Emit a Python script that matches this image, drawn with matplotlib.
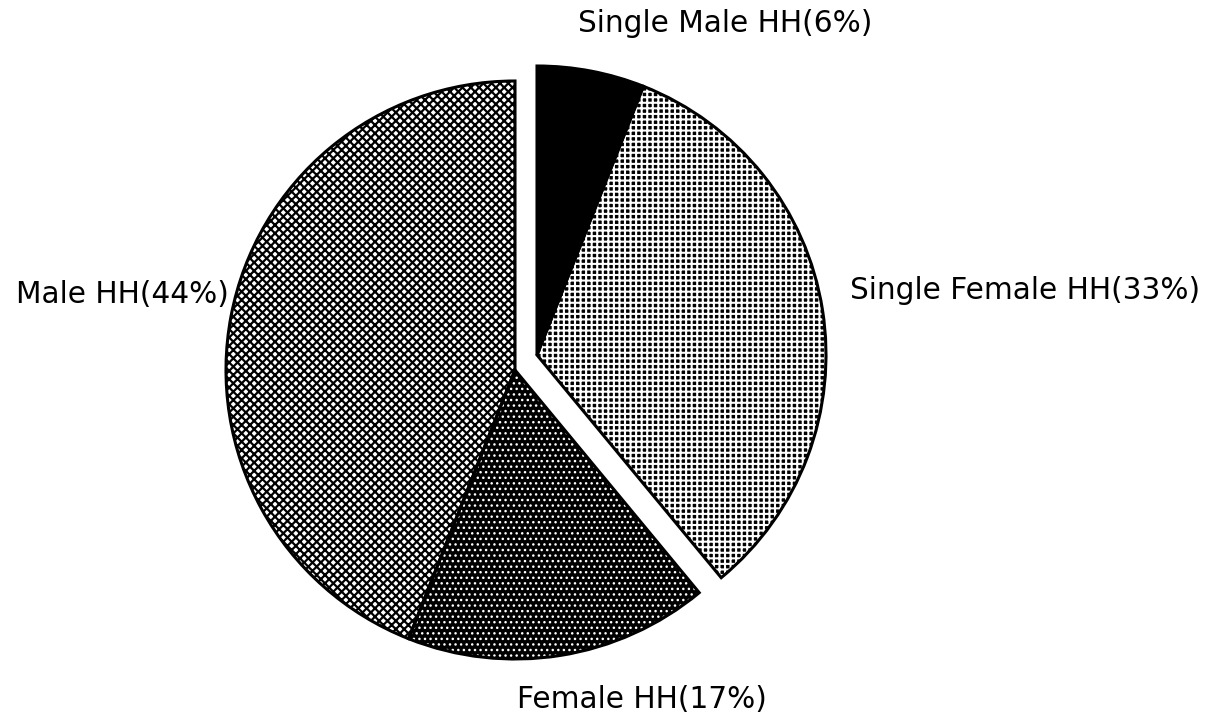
import matplotlib.pyplot as plt

# household head types, clockwise from the top
labels = ["Single Male HH(6%)", "Single Female HH(33%)", "Female HH(17%)", "Male HH(44%)"]
shares = [6, 33, 17, 44]

W, H = 1217, 717
R = 289
center = (515, H - 370)
moved = (537, H - 355)   # the two "single" slices are pulled out together

faces = ["black", "black", "black", "white"]
hatch_col = ["black", "white", "white", "black"]
hatches = [None, "+++", "...", "xxxx"]
hatch_lw = [1.0, 1.5, 1.0, 1.6]

fig = plt.figure(figsize=(W / 100, H / 100), dpi=100)
ax = fig.add_axes([0, 0, 1, 1])

fill, _ = ax.pie(shares, startangle=90, counterclock=False, radius=R,
                 center=center, colors=faces,
                 wedgeprops=dict(linewidth=0), frame=True)
for w, hc, h, lw in zip(fill, hatch_col, hatches, hatch_lw):
    w.set_edgecolor(hc)
    w.set_linewidth(0)
    if h:
        w.set_hatch(h)
    if hasattr(w, "set_hatch_linewidth"):
        w.set_hatch_linewidth(lw)

edge, _ = ax.pie(shares, startangle=90, counterclock=False, radius=R,
                 center=center, colors=["none"] * 4,
                 wedgeprops=dict(linewidth=2.2, edgecolor="black"), frame=True)

for wl in (fill, edge):
    wl[0].set_center(moved)
    wl[1].set_center(moved)

font = dict(family=["DejaVu Sans"], fontsize=21.3, color="black", va="baseline")
ax.text(578, H - 32, labels[0], ha="left", **font)
ax.text(850, H - 299, labels[1], ha="left", **font)
ax.text(517, H - 708, labels[2], ha="left", **font)
ax.text(229, H - 303, labels[3], ha="right", **font)

ax.set_xlim(0, W)
ax.set_ylim(0, H)
ax.set_aspect("equal")
ax.axis("off")

fig.savefig("out.png", dpi=100, facecolor="white")
